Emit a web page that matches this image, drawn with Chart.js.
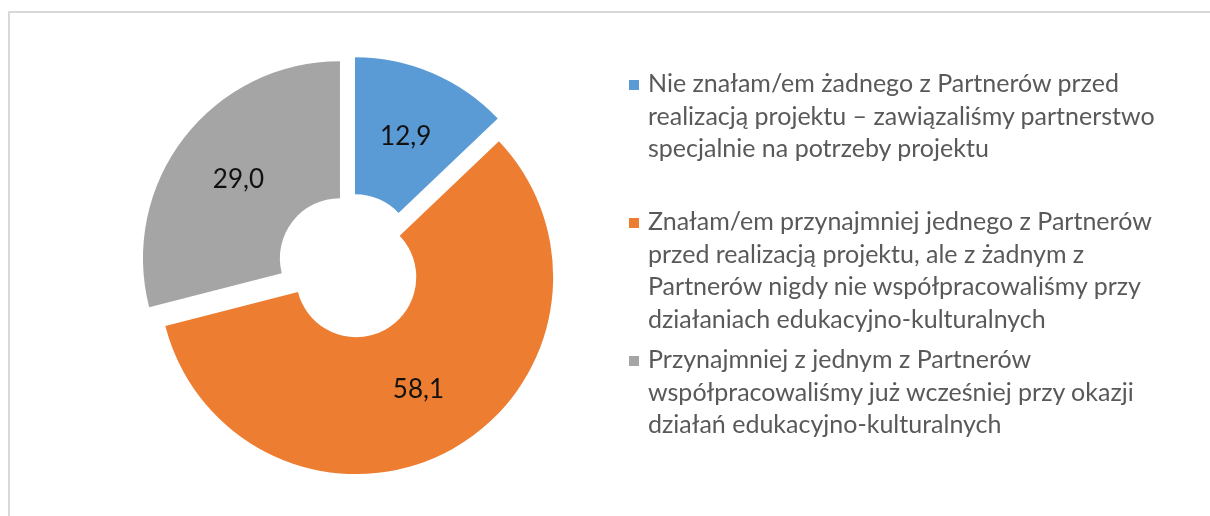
<!DOCTYPE html>
<html><head><meta charset="utf-8">
<script src="https://cdn.jsdelivr.net/npm/chart.js@4"></script>
<style>
html,body{margin:0;padding:0;background:#fff;width:1210px;height:516px;overflow:hidden;}
#frame{position:absolute;left:8px;top:11px;width:1300px;height:600px;border-top:2px solid #d9d9d9;border-left:2px solid #d9d9d9;}
#c{position:absolute;left:0;top:0;}
.item{position:absolute;left:648px;width:550px;font-family:Lato,sans-serif;font-size:25px;line-height:32.5px;color:#595959;white-space:nowrap;}
.sw{position:absolute;left:-19px;top:14px;width:10px;height:10px;}
</style></head>
<body>
<div id="frame"></div>
<canvas id="c" width="1210" height="516"></canvas>
<div id="legend"></div>
<script>
const categories = [
  "Nie znałam/em żadnego z Partnerów przed realizacją projektu – zawiązaliśmy partnerstwo specjalnie na potrzeby projektu",
  "Znałam/em przynajmniej jednego z Partnerów przed realizacją projektu, ale z żadnym z Partnerów nigdy nie współpracowaliśmy przy działaniach edukacyjno-kulturalnych",
  "Przynajmniej z jednym z Partnerów współpracowaliśmy już wcześniej przy okazji działań edukacyjno-kulturalnych"
];
const legendLines = [
  ["Nie znałam/em żadnego z Partnerów przed", "realizacją projektu – zawiązaliśmy partnerstwo", "specjalnie na potrzeby projektu"],
  ["Znałam/em przynajmniej jednego z Partnerów", "przed realizacją projektu, ale z żadnym z", "Partnerów nigdy nie współpracowaliśmy przy", "działaniach edukacyjno-kulturalnych"],
  ["Przynajmniej z jednym z Partnerów", "współpracowaliśmy już wcześniej przy okazji", "działań edukacyjno-kulturalnych"]
];
const values = [12.9, 58.1, 29.0];
const colors = ["#5B9BD5", "#ED7D31", "#A5A5A5"];

const EXPLODE = 12.7;
const legendTops = [66, 204, 342];

// HTML legend
const legendEl = document.getElementById('legend');
legendLines.forEach((lines, i) => {
  const d = document.createElement('div');
  d.className = 'item';
  d.style.top = legendTops[i] + 'px';
  const sw = document.createElement('span');
  sw.className = 'sw';
  sw.style.background = colors[i];
  d.appendChild(sw);
  lines.forEach((t, j) => {
    if (j) d.appendChild(document.createElement('br'));
    d.appendChild(document.createTextNode(t));
  });
  legendEl.appendChild(d);
});

const explodePlugin = {
  id: 'explode',
  beforeDatasetDraw(chart, args) {
    const ctx = chart.ctx;
    args.meta.data.forEach(arc => {
      const h = (arc.startAngle + arc.endAngle) / 2;
      ctx.save();
      ctx.translate(Math.cos(h) * EXPLODE, Math.sin(h) * EXPLODE);
      arc.draw(ctx);
      ctx.restore();
    });
    return false;
  }
};

const labelPlugin = {
  id: 'valueLabels',
  afterDatasetsDraw(chart) {
    const ctx = chart.ctx;
    const meta = chart.getDatasetMeta(0);
    ctx.save();
    ctx.font = '26px Lato, sans-serif';
    ctx.fillStyle = '#111111';
    ctx.textAlign = 'center';
    ctx.textBaseline = 'middle';
    meta.data.forEach((arc, i) => {
      const h = (arc.startAngle + arc.endAngle) / 2;
      const rr = (arc.innerRadius + arc.outerRadius) / 2 + EXPLODE;
      const txt = values[i].toFixed(1).replace('.', ',');
      ctx.fillText(txt, arc.x + Math.cos(h) * rr, arc.y + Math.sin(h) * rr);
    });
    ctx.restore();
  }
};

new Chart(document.getElementById('c'), {
  type: 'doughnut',
  data: {
    labels: categories,
    datasets: [{ data: values, backgroundColor: colors, borderWidth: 0, hoverOffset: 0 }]
  },
  options: {
    responsive: false,
    animation: false,
    events: [],
    radius: 197,
    cutout: '30.5%',
    layout: { padding: { left: 143, right: 653, top: 60, bottom: 44 } },
    plugins: { legend: { display: false }, tooltip: { enabled: false } }
  },
  plugins: [explodePlugin, labelPlugin]
});
</script>
</body></html>
